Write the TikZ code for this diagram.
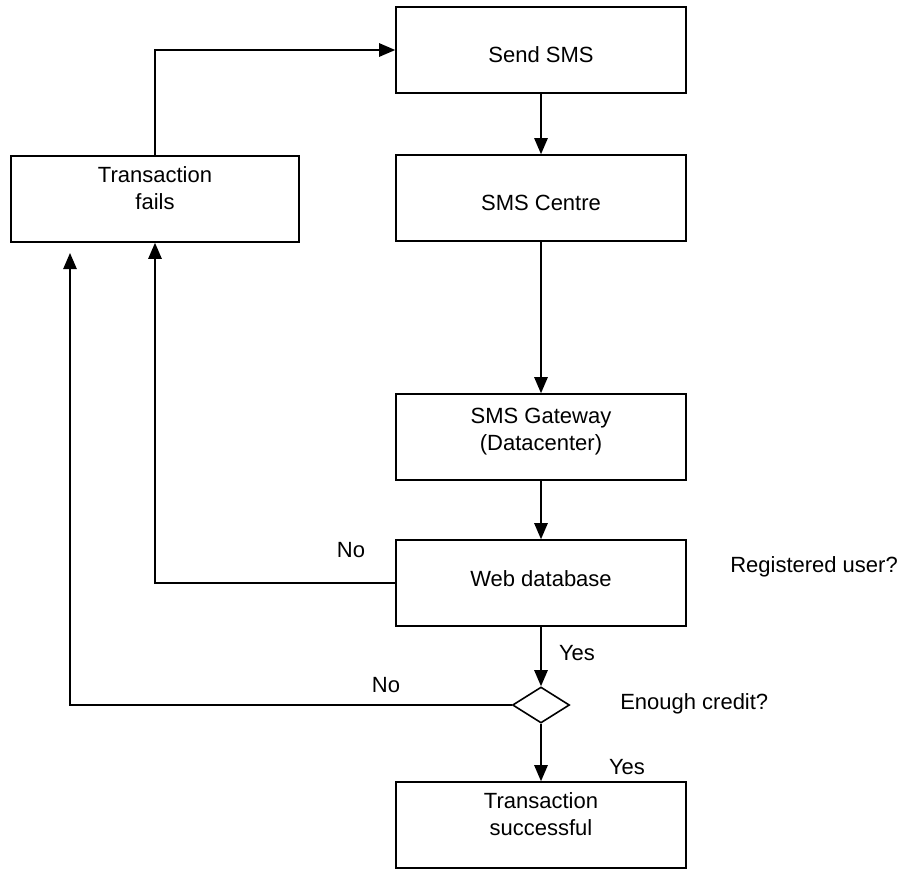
\documentclass[tikz,border=0pt]{standalone}
\usepackage{fontspec}
\setmainfont{Liberation Sans}
\usetikzlibrary{shapes.geometric,arrows.meta}
\begin{document}
\begin{tikzpicture}[x=0.75pt,y=-0.75pt,
  box/.style={draw,line width=1.2pt,minimum width=217.5pt,minimum height=64.5pt,inner sep=0pt},
  txt/.style={font=\fontsize{16.5}{20.25}\selectfont,align=center,inner sep=0pt},
  flow/.style={line width=1.2pt,-{Triangle[length=12pt,width=10pt]}},
  decision/.style={draw,diamond,line width=1.2pt,minimum width=42.75pt,minimum height=27pt,inner sep=0pt}]
\useasboundingbox (0,0) rectangle (899,868);

% process boxes
\node[box] (send)    at (541,50)  {};
\node[box] (centre)  at (541,198) {};
\node[box,minimum width=216pt] (fails) at (155,199) {};
\node[box] (gateway) at (541,437) {};
\node[box] (webdb)   at (541,583) {};
\node[box] (success) at (541,825) {};
\node[decision] (dia) at (541,705) {};

% box texts
\node[txt] at (541,55)  {Send SMS};
\node[txt] at (541,203) {SMS Centre};
\node[txt] at (155,188) {Transaction\\fails};
\node[txt] at (541,432) {SMS Gateway\\(Datacenter)};
\node[txt] at (541,579) {Web database};
\node[txt] at (541,814) {Transaction\\successful};

% questions and branch labels
\node[txt,anchor=west] at (730,567) {Registered user?};
\node[txt,anchor=west] at (620,704) {Enough credit?};
\node[txt] at (351,550) {No};
\node[txt] at (386,685) {No};
\node[txt] at (577,653) {Yes};
\node[txt] at (627,767) {Yes};

% connectors
\draw[flow] (fails.north) |- (send.west);
\draw[flow] (send) -- (centre);
\draw[flow] (centre) -- (gateway);
\draw[flow] (gateway) -- (webdb);
\draw[flow] (webdb) -- (dia);
\draw[flow] (dia) -- (success);
\draw[flow] (webdb.west) -| (fails.south);
\coordinate (retry) at (70,253);
\draw[flow] (dia.west) -| (retry);
\end{tikzpicture}
\end{document}
